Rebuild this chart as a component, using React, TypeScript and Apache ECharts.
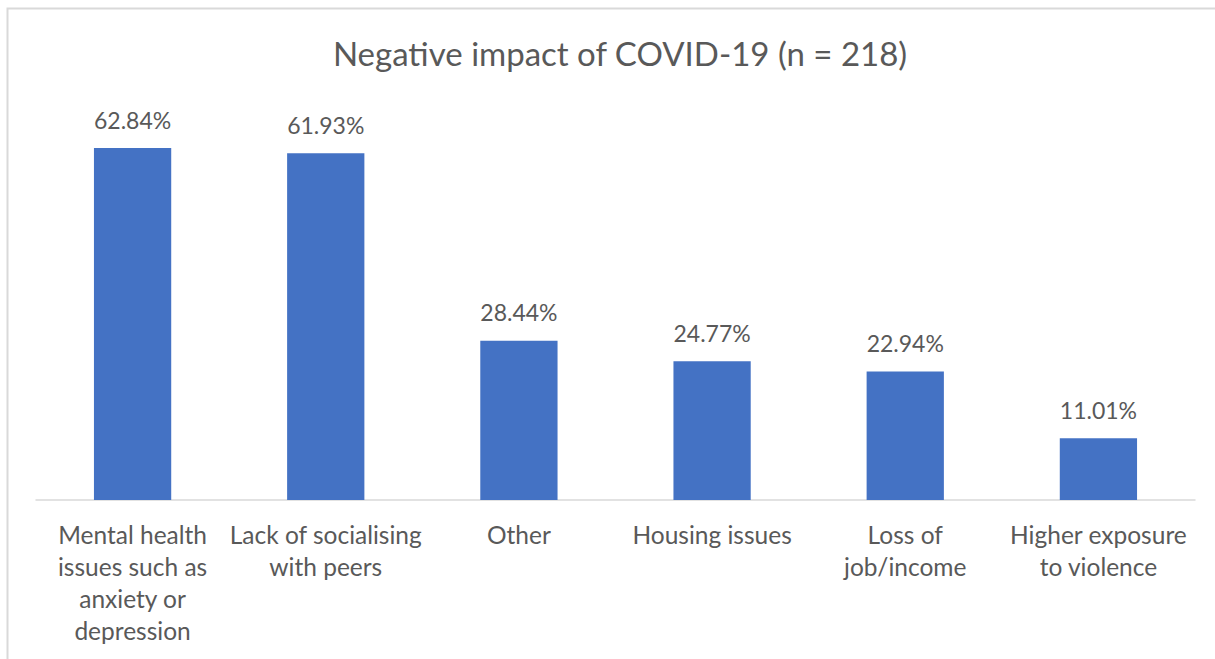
import React, { useEffect, useRef } from "react";
import * as echarts from "echarts";

// Share of respondents reporting each negative impact (%)
const categories = [
  "Mental health\nissues such as\nanxiety or\ndepression",
  "Lack of socialising\nwith peers",
  "Other",
  "Housing issues",
  "Loss of\njob/income",
  "Higher exposure\nto violence",
];
const shares = [62.84, 61.93, 28.44, 24.77, 22.94, 11.01];

const TITLE = "Negative impact of COVID-19 (n = 218)";
const FONT = "Lato, 'Noto Sans', sans-serif";
const TEXT_COLOR = "#595959";
const LINE_COLOR = "#D9D9D9";
const BAR_COLOR = "#4472C4";

export default function App() {
  const ref = useRef<HTMLDivElement>(null);

  useEffect(() => {
    if (!ref.current) return;
    const chart = echarts.init(ref.current, undefined, { renderer: "svg" });
    chart.setOption({
      animation: false,
      backgroundColor: "#FFFFFF",
      title: {
        text: TITLE,
        left: 615,
        textAlign: "center",
        top: 31,
        textStyle: {
          fontFamily: FONT,
          fontSize: 33,
          fontWeight: "normal",
          color: TEXT_COLOR,
        },
      },
      graphic: [
        {
          type: "rect",
          shape: { x: 7.5, y: 8.5, width: 1240, height: 700 },
          style: { fill: "none", stroke: LINE_COLOR, lineWidth: 2 },
          silent: true,
        },
      ],
      grid: { left: 36, right: 20, top: 108, bottom: 159, containLabel: false },
      xAxis: {
        type: "category",
        data: categories,
        axisLine: { show: true, lineStyle: { color: LINE_COLOR, width: 1.5 } },
        axisTick: { show: false },
        axisLabel: {
          interval: 0,
          margin: 18,
          fontFamily: FONT,
          fontSize: 24.5,
          lineHeight: 32,
          color: TEXT_COLOR,
          align: "center",
        },
      },
      yAxis: {
        type: "value",
        min: 0,
        max: 70,
        interval: 10,
        show: false,
        splitLine: { show: false },
      },
      series: [
        {
          type: "bar",
          data: shares,
          barWidth: "40%",
          itemStyle: { color: BAR_COLOR },
          label: {
            show: true,
            position: "top",
            distance: 17,
            formatter: (p: any) => `${Number(p.value).toFixed(2)}%`,
            fontFamily: FONT,
            fontSize: 23,
            color: TEXT_COLOR,
          },
        },
      ],
    });
    return () => chart.dispose();
  }, []);

  return (
    <div
      ref={ref}
      style={{ position: "fixed", left: 0, top: 0, width: 1215, height: 659 }}
    />
  );
}
